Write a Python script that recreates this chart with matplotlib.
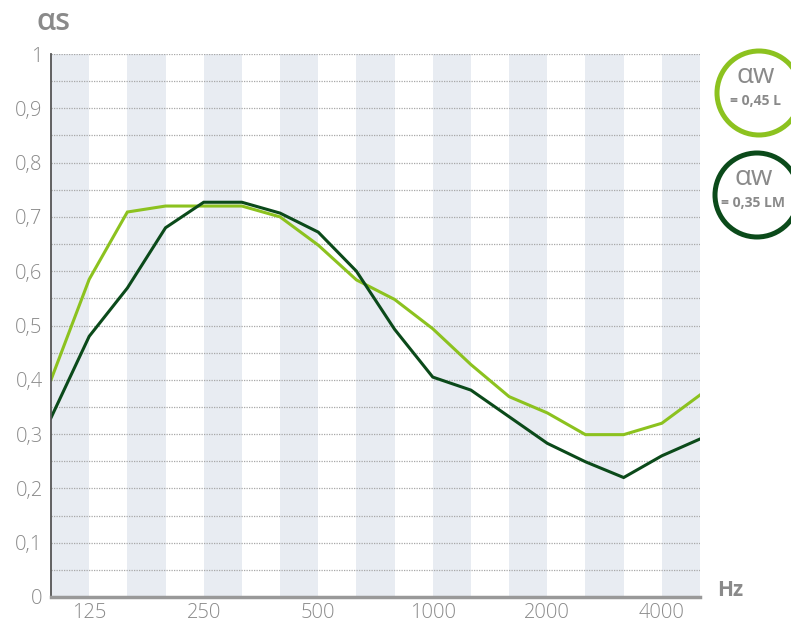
import matplotlib
matplotlib.use("Agg")
import matplotlib.pyplot as plt
from matplotlib.patches import Ellipse

freqs = [100, 125, 160, 200, 250, 315, 400, 500, 630, 800, 1000, 1250, 1600, 2000, 2500, 3150, 4000, 5000]
alpha_L = [0.40, 0.585, 0.709, 0.72, 0.72, 0.72, 0.70, 0.648, 0.584, 0.548, 0.494, 0.428, 0.369, 0.339, 0.299, 0.299, 0.32, 0.372]
alpha_LM = [0.33, 0.48, 0.569, 0.68, 0.727, 0.727, 0.707, 0.672, 0.60, 0.493, 0.405, 0.381, 0.332, 0.283, 0.249, 0.220, 0.26, 0.291]
xtick_labels = ["125", "250", "500", "1000", "2000", "4000"]
ytick_values = [0, 0.1, 0.2, 0.3, 0.4, 0.5, 0.6, 0.7, 0.8, 0.9, 1.0]
ytick_labels = ["0", "0,1", "0,2", "0,3", "0,4", "0,5", "0,6", "0,7", "0,8", "0,9", "1"]
badges = [("= 0,45 L", "#8CC21F"), ("= 0,35 LM", "#0B4A1A")]

plt.rcParams['font.family'] = ['Open Sans', 'DejaVu Sans']

LIGHT = "#8CC21F"
DARK = "#0B4A1A"
GRAY = "#8A8A8A"
BAND = "#E8ECF2"

fig = plt.figure(figsize=(7.91, 6.22), dpi=100)
ax = fig.add_axes([51/791, 1-597/622, (700-51)/791, (597-54)/622])

x = list(range(len(freqs)))
for k in range(0, len(freqs), 2):
    ax.axvspan(k, k + 1, color=BAND, lw=0, zorder=0)

for v in [i * 0.05 for i in range(1, 21)]:
    ax.axhline(v, color="#A8A8A8", lw=0.9, ls=(0, (1, 1)), zorder=1)

ax.plot(x, alpha_L, color=LIGHT, lw=2.2, zorder=3, solid_joinstyle="miter")
ax.plot(x, alpha_LM, color=DARK, lw=2.2, zorder=4, solid_joinstyle="miter")

ax.set_xlim(0, len(freqs) - 1)
ax.set_ylim(0, 1)

tick_pos = [freqs.index(int(t)) for t in xtick_labels]
ax.set_xticks(tick_pos)
ax.set_xticklabels(xtick_labels, fontsize=14.5, color=GRAY, fontweight="light")
ax.set_yticks(ytick_values)
ax.set_yticklabels(ytick_labels, fontsize=14.5, color=GRAY, fontweight="light")
ax.tick_params(length=0)
ax.tick_params(axis="y", pad=6)
ax.tick_params(axis="x", pad=4)

for s in ["top", "right"]:
    ax.spines[s].set_visible(False)
ax.spines["left"].set_color("#555555")
ax.spines["left"].set_linewidth(1.3)
ax.spines["bottom"].set_color("#999999")
ax.spines["bottom"].set_linewidth(2.5)
ax.spines["left"].set_zorder(5)
ax.spines["bottom"].set_zorder(5)

fig.text(53/791, 1-22/622, "αs", fontsize=22, fontweight="semibold", color=GRAY, ha="center", va="center")
fig.text(730/791, 1-590/622, "Hz", fontsize=15, fontweight="bold", color=GRAY, ha="center", va="center")

centers = [(759, 93), (757, 195)]
for (cx, cy), (txt, col) in zip(centers, badges):
    circ = Ellipse((cx/791, 1-cy/622), 84/791, 84/622, transform=fig.transFigure,
                   fill=False, edgecolor=col, lw=3.6)
    fig.add_artist(circ)
    fig.text((cx-3)/791, 1-(cy-17)/622, "αw", fontsize=20, fontweight="medium", color=GRAY, ha="center", va="center")
    fig.text((cx-4)/791, 1-(cy+8)/622, txt, fontsize=10, fontweight="bold", color=GRAY, ha="center", va="center")

fig.savefig("out.png", dpi=100)
